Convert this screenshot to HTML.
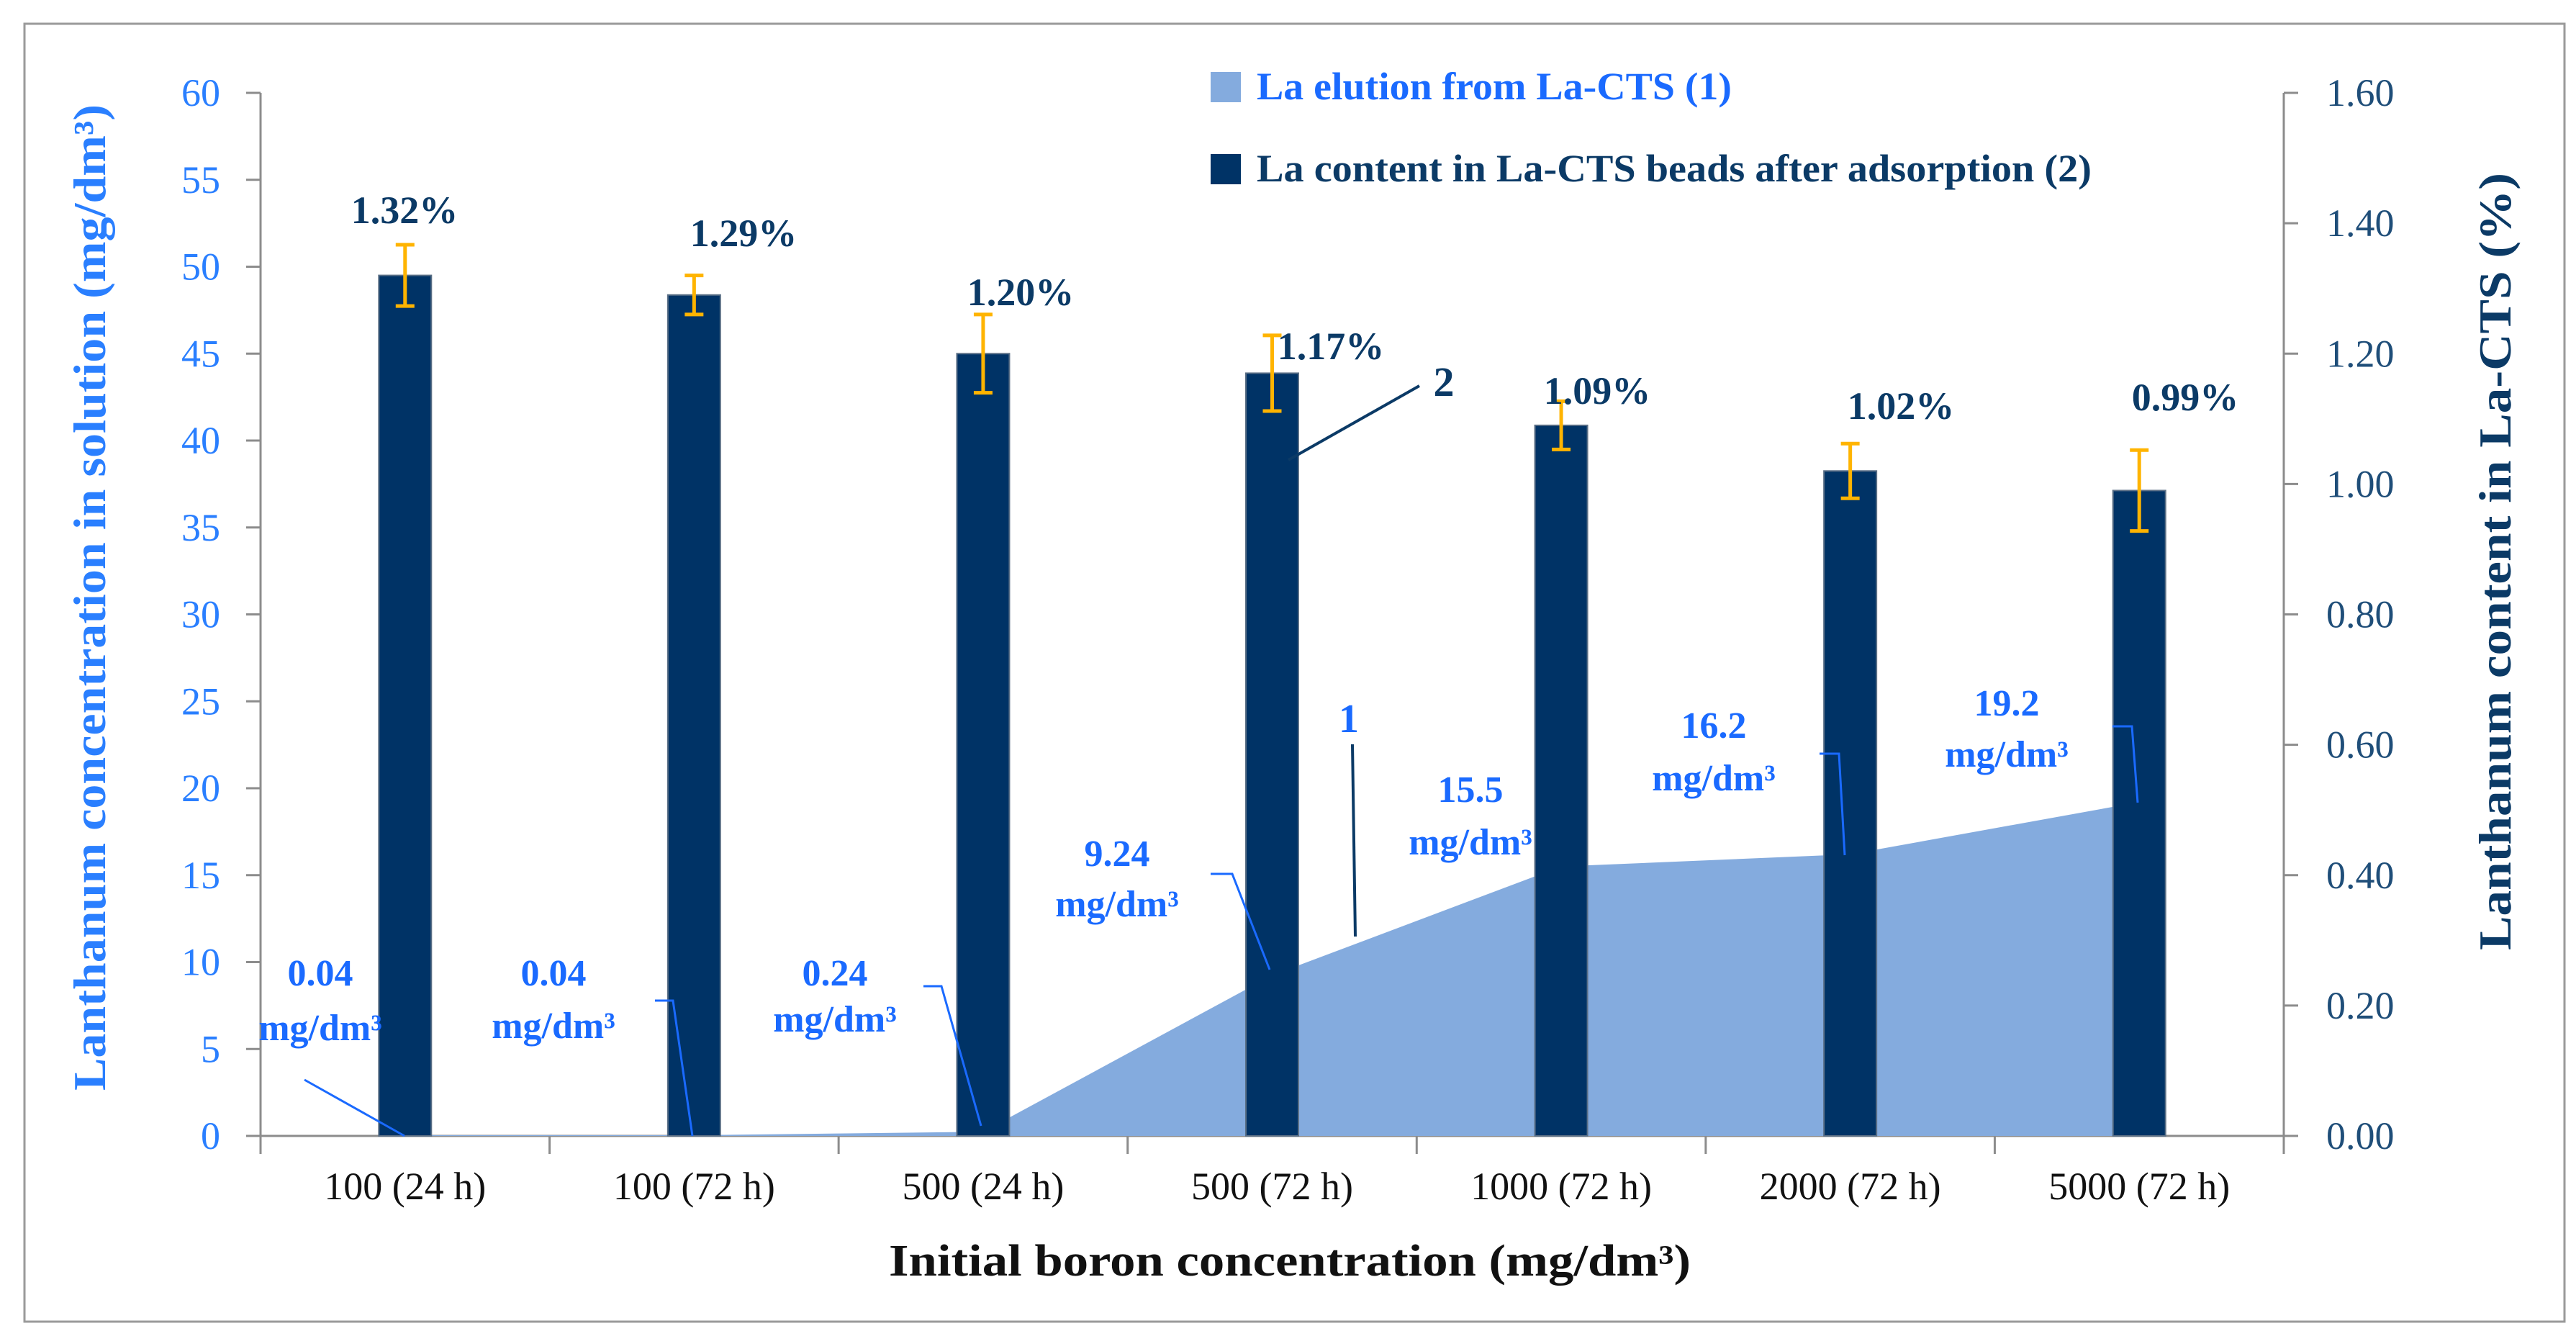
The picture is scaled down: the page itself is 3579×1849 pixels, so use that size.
<!DOCTYPE html>
<html><head><meta charset="utf-8"><style>
html,body{margin:0;padding:0;background:#fff}
svg{display:block;font-family:"Liberation Serif",serif}
</style></head><body>
<svg id="chart" width="3579" height="1849" viewBox="0 0 3579 1849">
<rect x="34" y="33" width="3529" height="1803" fill="#fff" stroke="#9a9a9a" stroke-width="3"/>
<g id="axes"></g>
<g id="area"></g>
<g id="bars"></g>
<g id="ann"></g>
<g>
<rect x="1682" y="100" width="42" height="42" fill="#84abde"/>
<text x="1746" y="138" font-size="54" font-weight="bold" fill="#1a6aff" textLength="660" lengthAdjust="spacingAndGlyphs">La elution from La-CTS (1)</text>
<rect x="1682" y="214" width="42" height="42" fill="#003366"/>
<text x="1746" y="252" font-size="54" font-weight="bold" fill="#0b3a66" textLength="1160" lengthAdjust="spacingAndGlyphs">La content in La-CTS beads after adsorption (2)</text>
</g>
<text transform="translate(146,830) rotate(-90)" text-anchor="middle" font-size="64" font-weight="bold" fill="#2a7fff" textLength="1370" lengthAdjust="spacingAndGlyphs">Lanthanum concentration in solution (mg/dm³)</text>
<text transform="translate(3488,780) rotate(-90)" text-anchor="middle" font-size="64" font-weight="bold" fill="#0b3a66" textLength="1080" lengthAdjust="spacingAndGlyphs">Lanthanum content in La-CTS (%)</text>
<text x="1792" y="1772" text-anchor="middle" font-size="62" font-weight="bold" fill="#111" textLength="1114" lengthAdjust="spacingAndGlyphs">Initial  boron concentration  (mg/dm³)</text>
</svg>
<script>
const categories=["100 (24 h)","100 (72 h)","500 (24 h)","500 (72 h)","1000 (72 h)","2000 (72 h)","5000 (72 h)"];
const elution=[0.04,0.04,0.24,9.24,15.5,16.2,19.2];
const content=[1.32,1.29,1.20,1.17,1.09,1.02,0.99];
const contentErr=[0.047,0.03,0.06,0.058,0.037,0.042,0.062];
const contentLabels=["1.32%","1.29%","1.20%","1.17%","1.09%","1.02%","0.99%"];
const leftTicks=[0,5,10,15,20,25,30,35,40,45,50,55,60];
const rightTicks=[0,0.2,0.4,0.6,0.8,1.0,1.2,1.4,1.6];

const NS="http://www.w3.org/2000/svg";
const X0=362,X1=3173,Y0=1578,Y1=129;
const band=(X1-X0)/categories.length;
const xc=i=>X0+band*(i+0.5);
const yL=v=>Y0-(v/60)*(Y0-Y1);
const yR=v=>Y0-(v/1.6)*(Y0-Y1);
function mk(tag,attrs,parent,txt){const e=document.createElementNS(NS,tag);for(const k in attrs)e.setAttribute(k,attrs[k]);if(txt!==undefined)e.textContent=txt;parent.appendChild(e);return e;}
const axes=document.getElementById('axes');
let e;
e=mk('line',{x1:X0,y1:Y1,x2:X0,y2:Y0+25,stroke:'#8c8c8c','stroke-width':3},axes);


e=mk('line',{x1:X1,y1:Y1,x2:X1,y2:Y0,stroke:'#8c8c8c','stroke-width':3},axes);


e=mk('line',{x1:X0,y1:Y0,x2:X1,y2:Y0,stroke:'#8c8c8c','stroke-width':3},axes);


leftTicks.forEach(v=>{
  const y=yL(v);
  mk('line',{x1:X0-20,y1:y,x2:X0,y2:y,stroke:'#8c8c8c','stroke-width':3},axes);
  e=mk('text',{x:306,y:y+18,'text-anchor':'end','font-size':54,fill:'#2a7fff'},axes,String(v));
  
  
});
rightTicks.forEach(v=>{
  const y=yR(v);
  mk('line',{x1:X1,y1:y,x2:X1+20,y2:y,stroke:'#8c8c8c','stroke-width':3},axes);
  e=mk('text',{x:3232,y:y+18,'font-size':54,fill:'#1f4e79'},axes,v.toFixed(2));
  
  
});
for(let i=0;i<=categories.length;i++){
  const x=X0+band*i;
  mk('line',{x1:x,y1:Y0,x2:x,y2:Y0+25,stroke:'#8c8c8c','stroke-width':3},axes);
}
categories.forEach((c,i)=>{
  e=mk('text',{x:xc(i),y:1666,'text-anchor':'middle','font-size':54,fill:'#111'},axes,c);
  
  
});
const area=document.getElementById('area');
let d='M'+xc(0)+','+Y0;
elution.forEach((v,i)=>{d+=' L'+xc(i)+','+yL(v);});
d+=' L'+xc(elution.length-1)+','+Y0+' Z';
e=mk('path',{d:d,fill:'#84abde'},area);


const bars=document.getElementById('bars');
const BW=73;
content.forEach((v,i)=>{
  const x=xc(i),y=yR(v);
  e=mk('rect',{x:x-BW/2,y:y,width:BW,height:Y0-y,fill:'#003366',stroke:'#5a6f86','stroke-width':2},bars);
  
  
  const yt=yR(v+contentErr[i]),yb=yR(v-contentErr[i]);
  e=mk('path',{d:`M${x},${yt} L${x},${yb} M${x-13},${yt} L${x+13},${yt} M${x-13},${yb} L${x+13},${yb}`,stroke:'#ffb400','stroke-width':5,fill:'none'},bars);
  
  
});
const barLabelPos=[[562,292],[1033,324],[1418,406],[1849,481],[2219,543],[2641,564],[3036,552]];
const ann=document.getElementById('ann');
contentLabels.forEach((t,i)=>{
  e=mk('text',{x:barLabelPos[i][0],y:barLabelPos[i][1]+18,'text-anchor':'middle','font-size':54,'font-weight':'bold',fill:'#0b3a66'},ann,t);
  
  
});
const elLab=[[445,1351,1427],[769,1351,1424],[1160,1351,1415],[1552,1185,1255],[2043,1096,1169],[2381,1007,1080],[2788,976,1047]];
elution.forEach((v,i)=>{
  const p=elLab[i];
  e=mk('text',{x:p[0],y:p[1]+18,'text-anchor':'middle','font-size':52,'font-weight':'bold',fill:'#1a6aff'},ann,String(v));
  
  
  e=mk('text',{x:p[0],y:p[2]+18,'text-anchor':'middle','font-size':52,'font-weight':'bold',fill:'#1a6aff'},ann,'mg/dm³');
  
  
});
const leaders=["M423,1500 L562,1578","M910,1390 L935,1390 L962,1578","M1283,1370 L1308,1370 L1363,1564","M1682,1214 L1712,1214 L1764,1347","M2528,1047 L2555,1047 L2563,1188","M2935,1009 L2962,1009 L2970,1115"];
leaders.forEach(p=>{
  e=mk('path',{d:p,stroke:'#1a6aff','stroke-width':3,fill:'none'},ann);
  
  
});
e=mk('path',{d:'M1879,1034 L1883,1301',stroke:'#0b3a66','stroke-width':4,fill:'none'},ann);


e=mk('text',{x:1874,y:1017,'text-anchor':'middle','font-size':56,'font-weight':'bold',fill:'#1a6aff'},ann,'1');


e=mk('path',{d:'M1972,536 L1790,639',stroke:'#0b3a66','stroke-width':4,fill:'none'},ann);


e=mk('text',{x:2006,y:550,'text-anchor':'middle','font-size':58,'font-weight':'bold',fill:'#0b3a66'},ann,'2');


</script>
</body></html>
